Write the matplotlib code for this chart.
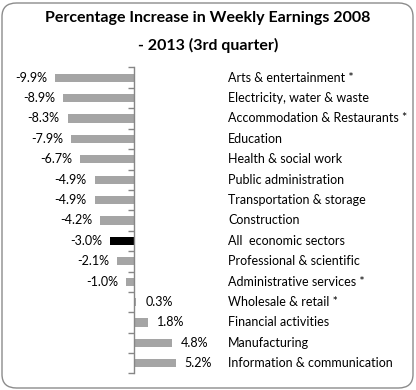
import matplotlib
matplotlib.use("Agg")
import matplotlib.pyplot as plt
from matplotlib.patches import FancyBboxPatch
import matplotlib.transforms as mtransforms
import numpy as np

# ── Data ──────────────────────────────────────────────────
sectors = [
    "Arts & entertainment *",
    "Electricity, water & waste",
    "Accommodation & Restaurants *",
    "Education",
    "Health & social work",
    "Public administration",
    "Transportation & storage",
    "Construction",
    "All  economic sectors",
    "Professional & scientific",
    "Administrative services *",
    "Wholesale & retail *",
    "Financial activities",
    "Manufacturing",
    "Information & communication",
]
change_pct = [-9.9, -8.9, -8.3, -7.9, -6.7, -4.9, -4.9, -4.2,
              -3.0, -2.1, -1.0, 0.3, 1.8, 4.8, 5.2]
highlight = "All  economic sectors"

W, H = 416, 390
GREY_BAR = "#A5A5A5"
AXIS_COL = "#868686"
FONT = "Lato"

fig = plt.figure(figsize=(W / 100, H / 100), dpi=100)

# rounded outer frame
frame = FancyBboxPatch((2 / W, 2 / H), (W - 5) / W, (H - 5) / H,
                       boxstyle="round,pad=0,rounding_size=0.035",
                       transform=fig.transFigure, fc="white",
                       ec="#8C8C8C", lw=1.0, zorder=-5)
fig.patches.append(frame)

fig.text(0.5, 1 - 18 / H, "Percentage Increase in Weekly Earnings 2008",
         ha="center", va="center", fontsize=11.5, fontweight="bold",
         family=FONT, color="black")
fig.text(0.5, 1 - 45 / H, "- 2013 (3rd quarter)",
         ha="center", va="center", fontsize=11.5, fontweight="bold",
         family=FONT, color="black")

# axes placed so that zero sits at x=134 px, ~8 px per percent
xmin, xmax = -12.0, 8.0
ppu = 8.0
left_px = 134 + xmin * ppu
right_px = 134 + xmax * ppu
top_px, bot_px = 67.5, 373.5
ax = fig.add_axes([left_px / W, 1 - bot_px / H,
                   (right_px - left_px) / W, (bot_px - top_px) / H])
ax.set_facecolor("none")
ax.set_zorder(2)

n = len(sectors)
y = np.arange(n)
colors = ["black" if s == highlight else GREY_BAR for s in sectors]
ax.barh(y, change_pct, height=0.4, color=colors, zorder=2)

ax.set_xlim(xmin, xmax)
ax.set_ylim(n - 0.5, -0.5)

for s in ["top", "right", "bottom"]:
    ax.spines[s].set_visible(False)
ax.spines["left"].set_position(("data", 0))
ax.spines["left"].set_color(AXIS_COL)
ax.spines["left"].set_linewidth(1.0)
ax.set_xticks([])
ax.set_yticks([])
ax.set_yticks(np.arange(-0.5, n, 1.0), minor=True)
ax.tick_params(axis="y", which="minor", direction="out", length=4,
               color=AXIS_COL, width=1.0, labelleft=False)

# value labels
for yi, v in zip(y, change_pct):
    if v < 0:
        ax.text(v - 1.0, yi, f"{v:.1f}%", ha="right", va="center",
                fontsize=9, family=FONT, color="black")
    else:
        ax.text(v + 1.1, yi, f"{v:.1f}%", ha="left", va="center",
                fontsize=9, family=FONT, color="black")

# category labels at fixed figure x
trans = mtransforms.blended_transform_factory(fig.transFigure, ax.transData)
for yi, s in zip(y, sectors):
    ax.text(228 / W, yi, s, transform=trans, ha="left", va="center",
            fontsize=9, family=FONT, color="black")

fig.savefig("out.png", dpi=100)
